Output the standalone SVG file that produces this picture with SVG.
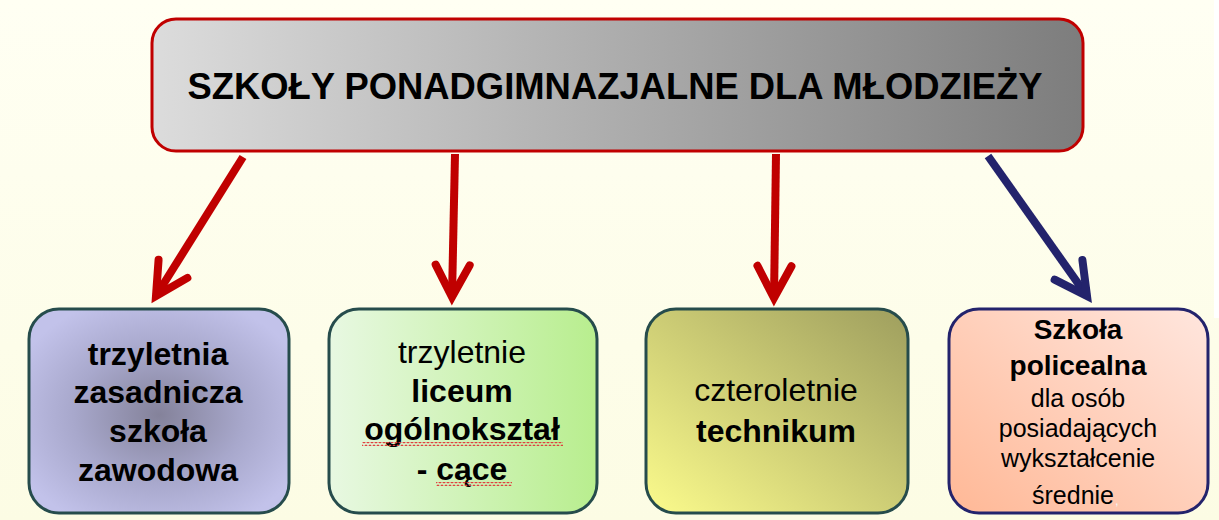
<svg xmlns="http://www.w3.org/2000/svg" width="1219" height="520" viewBox="0 0 1219 520">
  <defs>
    <linearGradient id="bg" x1="0" y1="0" x2="0" y2="1">
      <stop offset="0" stop-color="#fffff3"/>
      <stop offset="1" stop-color="#fcfce4"/>
    </linearGradient>
    <linearGradient id="gMain" x1="0" y1="0" x2="1" y2="0">
      <stop offset="0" stop-color="#dcdcdc"/>
      <stop offset="1" stop-color="#7d7d7d"/>
    </linearGradient>
    <radialGradient id="g1" cx="0.5" cy="0.52" r="0.6">
      <stop offset="0" stop-color="#84829a"/>
      <stop offset="0.55" stop-color="#a8a8cc"/>
      <stop offset="1" stop-color="#c2c2ea"/>
    </radialGradient>
    <linearGradient id="g2" x1="0" y1="0" x2="1" y2="0">
      <stop offset="0" stop-color="#e8f8e2"/>
      <stop offset="1" stop-color="#b8ee8e"/>
    </linearGradient>
    <linearGradient id="g3" x1="0" y1="1" x2="1" y2="0">
      <stop offset="0" stop-color="#fbfb8c"/>
      <stop offset="1" stop-color="#9e9e5e"/>
    </linearGradient>
    <linearGradient id="g4" x1="0" y1="1" x2="1" y2="0">
      <stop offset="0" stop-color="#ffb896"/>
      <stop offset="1" stop-color="#ffe6de"/>
    </linearGradient>
    <pattern id="wave" width="4" height="4" patternUnits="userSpaceOnUse">
      <path d="M0,3 L2,1 L4,3" fill="none" stroke="#e03c3c" stroke-width="1.1"/>
    </pattern>
    <marker id="headRed" markerUnits="userSpaceOnUse" viewBox="-40 -22 52 44" markerWidth="52" markerHeight="44" refX="0" refY="0" orient="auto" overflow="visible">
      <path d="M-32,-17 L0,0 L-32,17" fill="none" stroke="#c00000" stroke-width="8" stroke-linecap="round" stroke-linejoin="miter"/>
    </marker>
    <marker id="headBlue" markerUnits="userSpaceOnUse" viewBox="-40 -22 52 44" markerWidth="52" markerHeight="44" refX="0" refY="0" orient="auto" overflow="visible">
      <path d="M-32,-17 L0,0 L-32,17" fill="none" stroke="#23236c" stroke-width="8" stroke-linecap="round" stroke-linejoin="miter"/>
    </marker>
  </defs>
  <style>
    .t { font-family: "Liberation Sans", Arial, sans-serif; text-anchor: middle; fill: #000; }
    .b { font-weight: bold; }
    .s32 { font-size: 32px; }
    .s28 { font-size: 28px; }
    .s25 { font-size: 25px; }
    .boxT { stroke: #264c4c; stroke-width: 3; }
    .conn { fill: none; stroke-width: 8; }
  </style>

  <rect x="0" y="0" width="1219" height="520" fill="url(#bg)"/>
  <rect x="1214" y="0" width="5" height="318" fill="#ffffff"/>

  <g id="connectors">
    <path class="conn" d="M243,157 L156,296" stroke="#c00000" marker-end="url(#headRed)"/>
    <path class="conn" d="M455,154 L452,297" stroke="#c00000" marker-end="url(#headRed)"/>
    <path class="conn" d="M776,154 L774,298" stroke="#c00000" marker-end="url(#headRed)"/>
    <path class="conn" d="M988,156 L1087,296" stroke="#23236c" marker-end="url(#headBlue)"/>
  </g>

  <g id="main">
    <rect x="152" y="19" width="931" height="132" rx="24" fill="url(#gMain)" stroke="#c00000" stroke-width="3"/>
    <text class="t b" x="615" y="99" font-size="36.4">SZKOŁY PONADGIMNAZJALNE DLA MŁODZIEŻY</text>
  </g>

  <g id="box1">
    <rect x="29" y="309" width="260" height="204" rx="30" fill="url(#g1)" class="boxT"/>
    <text class="t b s32" x="158" y="365">trzyletnia</text>
    <text class="t b s32" x="158" y="403">zasadnicza</text>
    <text class="t b s32" x="158" y="442">szkoła</text>
    <text class="t b s32" x="158" y="481">zawodowa</text>
  </g>

  <g id="box2">
    <rect x="329" y="309" width="268" height="204" rx="30" fill="url(#g2)" class="boxT"/>
    <text class="t s32" x="462" y="363">trzyletnie</text>
    <text class="t b s32" x="462" y="402">liceum</text>
    <text class="t b s32" x="462" y="440">ogólnokształ</text>
    <text class="t b s32" x="462" y="480">- cące</text>
    <rect x="362" y="442" width="201" height="4" fill="url(#wave)"/>
    <rect x="436" y="482" width="76" height="4" fill="url(#wave)"/>
  </g>

  <g id="box3">
    <rect x="646" y="309" width="262" height="204" rx="30" fill="url(#g3)" class="boxT"/>
    <text class="t s32" x="776" y="401">czteroletnie</text>
    <text class="t b s32" x="776" y="442">technikum</text>
  </g>

  <g id="box4">
    <rect x="949" y="309" width="259" height="204" rx="30" fill="url(#g4)" stroke="#23236c" stroke-width="3"/>
    <text class="t b s28" x="1078" y="339">Szkoła</text>
    <text class="t b s28" x="1078" y="375">policealna</text>
    <text class="t s25" x="1078" y="407">dla osób</text>
    <text class="t s25" x="1078" y="437">posiadających</text>
    <text class="t s25" x="1078" y="467">wykształcenie</text>
    <text class="t s25" x="1073" y="504">średnie</text>
    <text x="1115" y="505" font-family="Liberation Sans, Arial, sans-serif" font-size="13" fill="#f4f4f4">,</text>
  </g>
</svg>
